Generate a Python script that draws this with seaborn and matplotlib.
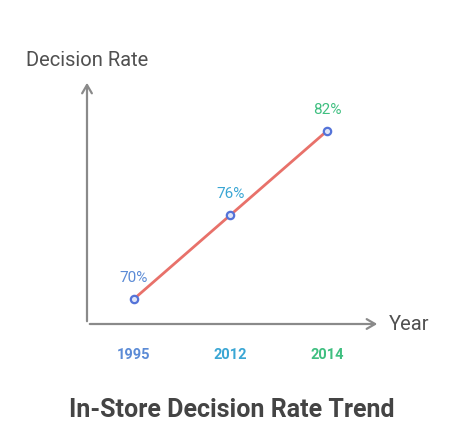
import pandas as pd
import matplotlib.pyplot as plt
import seaborn as sns

# ── Data ──────────────────────────────────────────────────────────────────────
years = ['1995', '2012', '2014']
rates = [70, 76, 82]
colors = ['#5b8bd6', '#3aa6d4', '#3fbf80']

df = pd.DataFrame({'year': years, 'rate': rates})

sns.set_style('white')
plt.rcParams['font.family'] = ['Roboto', 'DejaVu Sans']

fig = plt.figure(figsize=(4.55, 4.42), dpi=100)
W, H = 455, 442
ax = fig.add_axes([87 / W, 1 - 324 / H, (380 - 87) / W, (324 - 80) / H])

sns.lineplot(data=df, x='year', y='rate', color='#e8716a', linewidth=2, ax=ax)
sns.scatterplot(data=df, x='year', y='rate', s=28, facecolor='#dfe5f8',
                edgecolor='#5473d8', linewidth=1.6, zorder=3, ax=ax)

ax.set_xlim(-0.487, 2.55)
ax.set_ylim(68.21, 85.64)

for i, (r, c) in enumerate(zip(rates, colors)):
    ax.annotate(f'{r}%', (i, r), xytext=(0, 15), textcoords='offset points',
                ha='center', va='center', color=c, fontsize=11)

# axes with arrows
for s in ax.spines.values():
    s.set_visible(False)
arrow = dict(arrowstyle='->,head_length=0.6,head_width=0.35', color='#8a8a8a', lw=1.6)
ax.annotate('', xy=(1, 0), xytext=(0, 0), xycoords='axes fraction', arrowprops=arrow)
ax.annotate('', xy=(0, 1), xytext=(0, 0), xycoords='axes fraction', arrowprops=arrow)

ax.set_yticks([])
ax.set_xticks(range(len(years)))
ax.set_xticklabels(years, fontsize=10.5, fontweight='bold')
for lbl, c in zip(ax.get_xticklabels(), colors):
    lbl.set_color(c)
ax.tick_params(axis='x', length=0, pad=17)
ax.set_xlabel('')
ax.set_ylabel('')

fig.text(87 / W, 1 - 60 / H, 'Decision Rate', ha='center', va='center',
         fontsize=14.5, color='#505050')
fig.text(409 / W, 1 - 324 / H, 'Year', ha='center', va='center',
         fontsize=14.5, color='#505050')
fig.text(232 / W, 1 - 410 / H, 'In-Store Decision Rate Trend', ha='center',
         va='center', fontsize=18, fontweight='bold', color='#444444')

plt.savefig('out.png', dpi=100)
plt.close()
